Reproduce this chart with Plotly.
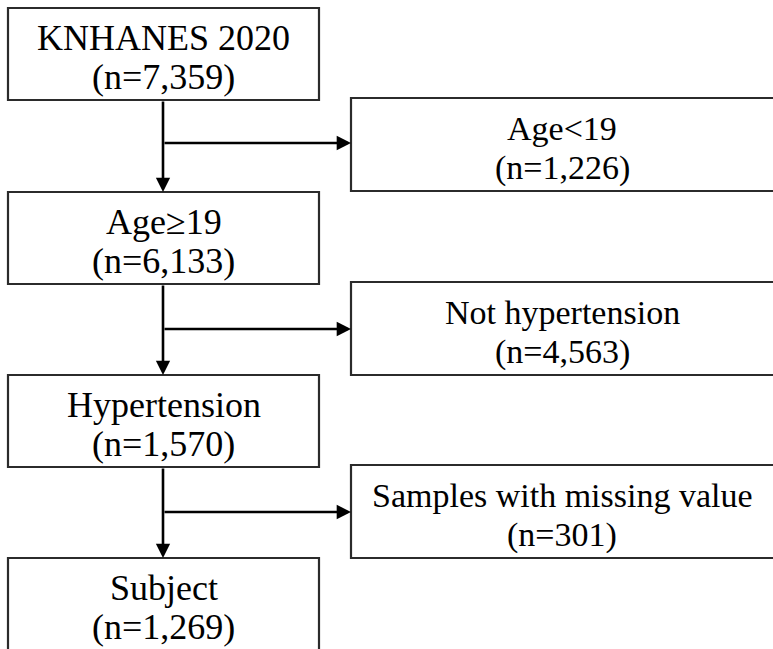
import plotly.graph_objects as go

# ---- data ----
main_labels = ["KNHANES 2020", "Age≥19", "Hypertension", "Subject"]
main_counts = ["7,359", "6,133", "1,570", "1,269"]
excl_labels = ["Age<19", "Not hypertension", "Samples with missing value"]
excl_counts = ["1,226", "4,563", "301"]

# ---- geometry (pixels, y downward) ----
W, H = 773, 649
main_x0, main_x1 = 8, 319
main_tops = [8, 192, 375, 558]
main_h = 92
excl_x0, excl_x1 = 351, 776
excl_tops = [98, 282, 465]
excl_h = 93
trunk_x = 163
branch_y = [143, 329, 512]

FONT = "Liberation Serif, Times New Roman, serif"
BOX_COL = "#2b2b2b"

shapes = []
annotations = []

def add_box(x0, x1, top, h, line1, line2, size):
    shapes.append(dict(type="rect", xref="x", yref="y", x0=x0, x1=x1, y0=top, y1=top + h,
                       line=dict(color=BOX_COL, width=2.2), fillcolor="white", layer="below"))
    cx = (x0 + min(x1, W)) / 2
    annotations.append(dict(x=cx, y=top + h * 0.325, xref="x", yref="y", text=line1,
                            showarrow=False, xanchor="center", yanchor="middle",
                            font=dict(family=FONT, size=size, color="black")))
    annotations.append(dict(x=cx, y=top + h * 0.75, xref="x", yref="y", text=line2,
                            showarrow=False, xanchor="center", yanchor="middle",
                            font=dict(family=FONT, size=size, color="black")))

for i, (lab, cnt) in enumerate(zip(main_labels, main_counts)):
    add_box(main_x0, main_x1, main_tops[i], main_h, lab, f"(n={cnt})", 36)

for i, (lab, cnt) in enumerate(zip(excl_labels, excl_counts)):
    add_box(excl_x0, excl_x1, excl_tops[i], excl_h, lab, f"(n={cnt})", 34)

# arrows
for i in range(3):
    annotations.append(dict(x=trunk_x, y=main_tops[i + 1], ax=trunk_x, ay=main_tops[i] + main_h,
                            xref="x", yref="y", axref="x", ayref="y", text="",
                            showarrow=True, arrowhead=2, arrowsize=1.1, arrowwidth=2.6,
                            arrowcolor="black", standoff=0, startstandoff=0))
    annotations.append(dict(x=excl_x0, y=branch_y[i], ax=trunk_x, ay=branch_y[i],
                            xref="x", yref="y", axref="x", ayref="y", text="",
                            showarrow=True, arrowhead=2, arrowsize=1.1, arrowwidth=2.6,
                            arrowcolor="black", standoff=0, startstandoff=0))

fig = go.Figure()
fig.update_layout(
    width=W, height=H,
    margin=dict(l=0, r=0, t=0, b=0),
    paper_bgcolor="white", plot_bgcolor="white",
    xaxis=dict(range=[0, W], visible=False, fixedrange=True),
    yaxis=dict(range=[H, 0], visible=False, fixedrange=True),
    shapes=shapes, annotations=annotations,
    showlegend=False,
)
fig.write_html("out.html", config={"displayModeBar": False},
               post_script="document.body.style.margin='0';document.body.style.overflow='hidden';")
